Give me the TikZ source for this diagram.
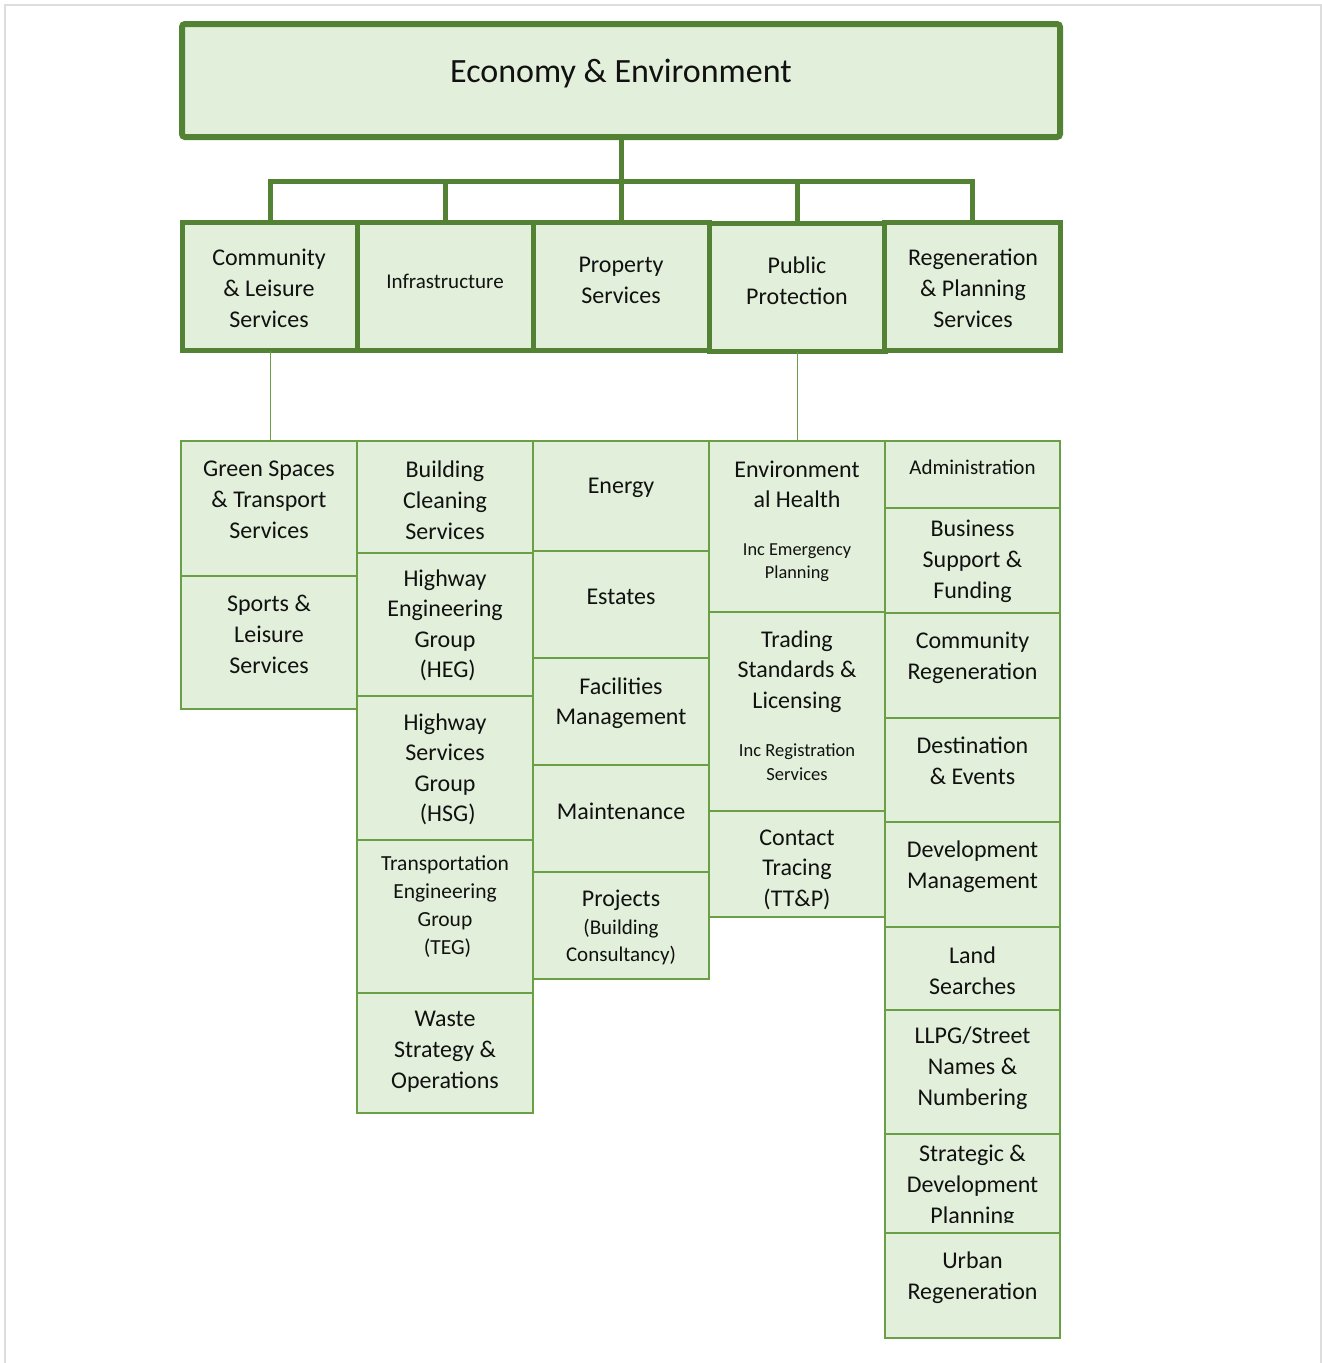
\documentclass[tikz,border=0pt]{standalone}
\usepackage{fontspec}
\setmainfont{Carlito}
\definecolor{dkgreen}{HTML}{548235}
\definecolor{thgreen}{HTML}{6A9F45}
\definecolor{ltgreen}{HTML}{E2EFDA}
\definecolor{framegray}{HTML}{DDDDDD}
\definecolor{txtblack}{HTML}{111111}
\tikzset{
  topbox/.style={draw=dkgreen, line width=6pt, fill=ltgreen, rounded corners=3pt, inner sep=0pt, outer sep=0pt, minimum width=878pt, minimum height=113pt},
  midbox/.style={draw=dkgreen, line width=5pt, fill=ltgreen, inner sep=0pt, outer sep=0pt, minimum width=176pt, minimum height=128pt},
  lowbox/.style={draw=thgreen, line width=1.4pt, fill=ltgreen, inner sep=0pt, outer sep=0pt},
  bigconn/.style={draw=dkgreen, line width=5pt},
  thinconn/.style={draw=thgreen, line width=1pt},
  txt/.style={align=center, inner sep=0pt, yshift=-2pt, text=txtblack, font=\fontsize{24}{31}\selectfont},
  txtsm/.style={align=center, inner sep=0pt, yshift=-2pt, text=txtblack, font=\fontsize{21}{28}\selectfont},
  txtxs/.style={align=center, inner sep=0pt, yshift=-2pt, text=txtblack, font=\fontsize{18.5}{23.5}\selectfont},
}
\begin{document}
\begin{tikzpicture}[x=1pt, y=-1pt]
\useasboundingbox (0,0) rectangle (1322,1363);
\fill[white] (0,0) rectangle (1322,1363);
\draw[framegray, line width=1.5pt] (5,1363) -- (5,5) -- (1321,5) -- (1321,1363);

% top box
\node[topbox] (top) at (621,80.5) {};
\node[txt, font=\fontsize{34}{40}\selectfont] (ttop) at (621,72) {Economy \& Environment};

% middle boxes
\node[midbox] (cls) at (270,286.5) {};
\node[midbox] (inf) at (445.5,286.5) {};
\node[midbox] (prs) at (621.5,286.5) {};
\node[midbox] (pup) at (797.5,287.5) {};
\node[midbox] (rps) at (972.5,286.5) {};

\node[txt] (tcls) at (269,286) {Community\\\& Leisure\\Services};
\node[txtsm] (tinf) at (445,279) {Infrastructure};
\node[txt] (tprs) at (621,278.5) {Property\\Services};
\node[txt] (tpup) at (797,279) {Public\\Protection};
\node[txt] (trps) at (973,286) {Regeneration\\\& Planning\\Services};

% top connectors
\draw[bigconn] (top.south) -- ++(0,44) coordinate (bus);
\draw[bigconn, line cap=rect] (cls.north |- bus) -- (rps.north |- bus);
\foreach \n in {cls,inf,prs,pup,rps}{
  \draw[bigconn] (\n.north |- bus) -- (\n.north);
}

% lower boxes: column 1
\node[lowbox, minimum width=176pt, minimum height=135pt] (gs) at (269,508.5) {};
\node[lowbox, minimum width=176pt, minimum height=133pt] (sl) at (269,642.5) {};
% column 2
\node[lowbox, minimum width=176pt, minimum height=112pt] (bc) at (445,497) {};
\node[lowbox, minimum width=176pt, minimum height=143pt] (heg) at (445,624.5) {};
\node[lowbox, minimum width=176pt, minimum height=144pt] (hsg) at (445,768) {};
\node[lowbox, minimum width=176pt, minimum height=153pt] (teg) at (445,916.5) {};
\node[lowbox, minimum width=176pt, minimum height=120pt] (wso) at (445,1053) {};
% column 3
\node[lowbox, minimum width=176pt, minimum height=110pt] (en) at (621,496) {};
\node[lowbox, minimum width=176pt, minimum height=107pt] (es) at (621,604.5) {};
\node[lowbox, minimum width=176pt, minimum height=107pt] (fm) at (621,711.5) {};
\node[lowbox, minimum width=176pt, minimum height=107pt] (mt) at (621,818.5) {};
\node[lowbox, minimum width=176pt, minimum height=107pt] (pj) at (621,925.5) {};
% column 4
\node[lowbox, minimum width=176pt, minimum height=171pt] (eh) at (797,526.5) {};
\node[lowbox, minimum width=176pt, minimum height=199pt] (ts) at (797,711.5) {};
\node[lowbox, minimum width=176pt, minimum height=106pt] (ct) at (797,864) {};
% column 5
\node[lowbox, minimum width=175pt, minimum height=67pt] (adm) at (972.5,474.5) {};
\node[lowbox, minimum width=175pt, minimum height=105pt] (bs) at (972.5,560.5) {};
\node[lowbox, minimum width=175pt, minimum height=105pt] (cr) at (972.5,665.5) {};
\node[lowbox, minimum width=175pt, minimum height=104pt] (de) at (972.5,770) {};
\node[lowbox, minimum width=175pt, minimum height=105pt] (dm) at (972.5,874.5) {};
\node[lowbox, minimum width=175pt, minimum height=83pt] (ls) at (972.5,968.5) {};
\node[lowbox, minimum width=175pt, minimum height=124pt] (ll) at (972.5,1072) {};
\node[lowbox, minimum width=175pt, minimum height=99pt] (sd) at (972.5,1183.5) {};
\node[lowbox, minimum width=175pt, minimum height=105pt] (ur) at (972.5,1285.5) {};

% thin connectors
\draw[thinconn] (cls.south) -- (cls.south |- gs.north);
\draw[thinconn] (pup.south) -- (pup.south |- eh.north);

% texts column 1
\node[txt] (tgs) at (269,498) {Green Spaces\\\& Transport\\Services};
\node[txt] (tsl) at (269,632) {Sports \&\\Leisure\\Services};
% column 2
\node[txt] (tbc) at (445,498) {Building\\Cleaning\\Services};
\node[txt, font=\fontsize{24}{30.5}\selectfont] (theg) at (445,623.5) {Highway\\Engineering\\Group\\\ (HEG)};
\node[txt, font=\fontsize{24}{30.5}\selectfont] (thsg) at (445,767.5) {Highway\\Services\\Group\\\ (HSG)};
\node[txtsm, font=\fontsize{21.5}{27.7}\selectfont] (tteg) at (445,904.5) {Transportation\\Engineering\\Group\\\ (TEG)};
\node[txt] (twso) at (445,1050) {Waste\\Strategy \&\\Operations};
% column 3
\node[txt] (ten) at (621,486) {Energy};
\node[txt] (tes) at (621,595) {Estates};
\node[txt, font=\fontsize{24}{30}\selectfont] (tfm) at (621,701) {Facilities\\Management};
\node[txt] (tmt) at (621,809) {Maintenance};
\node[txt] (tpj) at (621,898) {Projects};
\node[txtsm, font=\fontsize{21}{27}\selectfont] (tpj2) at (621,940.5) {(Building\\Consultancy)};
% column 4
\node[txt, font=\fontsize{24}{30}\selectfont] (teh) at (797,482) {Environment\\al Health};
\node[txtxs, font=\fontsize{18.3}{23}\selectfont] (teh2) at (797,560.5) {Inc Emergency\\Planning};
\node[txt, font=\fontsize{24}{30.5}\selectfont] (tts) at (797,669.5) {Trading\\Standards \&\\Licensing};
\node[txtxs, font=\fontsize{18.5}{24}\selectfont] (tts2) at (797,760) {Inc Registration\\Services};
\node[txt, font=\fontsize{24}{30.5}\selectfont] (tct) at (797,867.5) {Contact\\Tracing\\(TT\&P)};
% column 5
\node[txtsm, font=\fontsize{21}{26}\selectfont] (tadm) at (972.5,465) {Administration};
\node[txt] (tbs) at (972.5,559) {Business\\Support \&\\Funding};
\node[txt] (tcr) at (972.5,655.5) {Community\\Regeneration};
\node[txt] (tde) at (972.5,758.5) {Destination\\\& Events};
\node[txt] (tdm) at (972.5,864.5) {Development\\Management};
\node[txt] (tls) at (972.5,968.5) {Land\\Searches};
\node[txt] (tll) at (972.5,1066) {LLPG/Street\\Names \&\\Numbering};
\begin{scope}
  \clip (885,1134) rectangle (1060,1222);
  \node[txt] (tsd) at (972.5,1184) {Strategic \&\\Development\\Planning};
\end{scope}
\node[txt] (tur) at (972.5,1275.5) {Urban\\Regeneration};
\end{tikzpicture}
\end{document}
